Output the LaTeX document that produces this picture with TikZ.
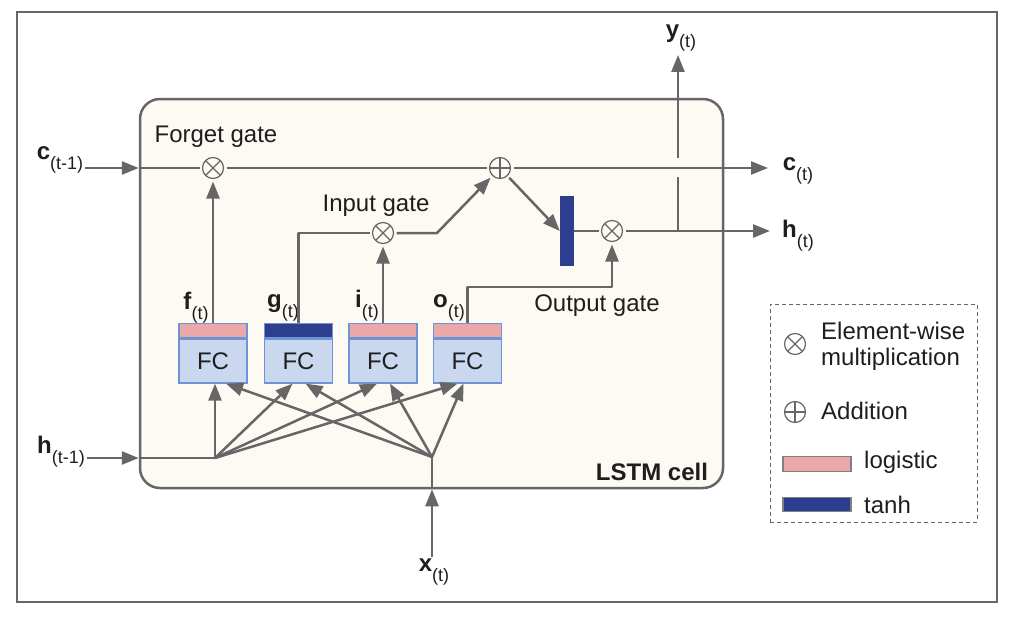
\documentclass[tikz,border=0pt]{standalone}
\usepackage{fontspec}
\setmainfont{Liberation Sans}
\usetikzlibrary{positioning,arrows.meta}
\definecolor{linegray}{HTML}{666666}
\definecolor{cellbg}{HTML}{FCFAF3}
\definecolor{fcblue}{HTML}{C9D8EE}
\definecolor{fcedge}{HTML}{6F94D6}
\definecolor{logipink}{HTML}{EBA8A8}
\definecolor{tanhblue}{HTML}{2E3E8E}
\definecolor{textdark}{HTML}{1E1E1E}
\newcommand{\sublab}[2]{\textbf{#1}\raisebox{-10pt}{\fontsize{18}{18}\selectfont(#2)}}

\begin{document}
\begin{tikzpicture}[x=1pt,y=-1pt,font=\fontsize{24}{28}\selectfont,text=textdark]
\tikzstyle{line}=[draw=linegray,line width=2.5pt,line join=round]
\tikzstyle{arr}=[line,-{Triangle[length=17pt,width=13pt]}]
\tikzstyle{op}=[circle,draw=linegray,fill=cellbg,line width=1.2pt,minimum size=21pt,inner sep=0pt,outer sep=3pt]
\tikzstyle{mul}=[op,path picture={\draw[linegray,line width=1.2pt] (path picture bounding box.south west) -- (path picture bounding box.north east) (path picture bounding box.north west) -- (path picture bounding box.south east);}]
\tikzstyle{plus}=[op,path picture={\draw[linegray,line width=1.2pt] (path picture bounding box.north) -- (path picture bounding box.south) (path picture bounding box.west) -- (path picture bounding box.east);}]
\tikzstyle{fc}=[draw=fcedge,fill=fcblue,line width=1.2pt,minimum width=68pt,minimum height=44pt,inner sep=0pt]
\tikzstyle{logi}=[draw=fcedge,fill=logipink,line width=1.2pt,minimum width=68pt,minimum height=14pt,inner sep=0pt]
\tikzstyle{tanhp}=[logi,fill=tanhblue]
\tikzstyle{lab}=[inner sep=2pt]

\useasboundingbox (0,0) rectangle (1020,626);
\draw[linegray,line width=1.5pt] (17,12) rectangle (997,602);

% the cell
\node[draw=linegray,fill=cellbg,line width=2.5pt,rounded corners=20pt,minimum width=583pt,minimum height=389pt] (cell) at (431.5,293.5) {};
\node[lab] (celllab) at (652,472) {\bfseries LSTM cell};

% fully connected layers
\node[fc] (f) at (213,361) {FC};
\node[fc] (g) at (298.5,361) {FC};
\node[fc] (i) at (383,361) {FC};
\node[fc] (o) at (467.5,361) {FC};
\node[logi,above=0pt of f] (fs) {};
\node[tanhp,above=0pt of g] (gs) {};
\node[logi,above=0pt of i] (is) {};
\node[logi,above=0pt of o] (os) {};
\node[lab] (flab) at (196,308) {\sublab{f}{t}};
\node[lab] (glab) at (283,308) {\sublab{g}{t}};
\node[lab] (ilab) at (367,306) {\sublab{i}{t}};
\node[lab] (olab) at (449,308) {\sublab{o}{t}};

% gates
\node[mul] (fg) at (213,168) {};
\node[plus] (add) at (500,168) {};
\node[mul] (ig) at (383,233) {};
\node[mul] (og) at (612,231) {};
\node[fill=tanhblue,minimum width=14pt,minimum height=70pt,inner sep=0pt] (th) at (567,231) {};
\node[lab] (fglab) at (216,137) {Forget gate};
\node[lab] (iglab) at (376,206) {Input gate};
\node[lab] (oglab) at (597,306) {Output gate};

% inputs and outputs
\node[lab] (cin) at (60,160) {\sublab{c}{t-1}};
\node[lab] (hin) at (61,452) {\sublab{h}{t-1}};
\node[lab] (xin) at (434,572) {\sublab{x}{t}};
\node[lab] (cout) at (798,171) {\sublab{c}{t}};
\node[lab] (hout) at (798,236) {\sublab{h}{t}};
\node[lab] (yout) at (681,38) {\sublab{y}{t}};
\coordinate (hj) at (215,458);
\coordinate (xj) at (432,457);
\coordinate (ibend) at (437,233);
\coordinate (oturn) at (612,287);
\coordinate (ctip) at (768,168);
\coordinate (htip) at (770,231);
\coordinate (ybr) at (678,231);
\coordinate (ytip) at (678,55);
\coordinate (ycross) at (ybr |- add);

% connectors
\draw[arr] (cin.east |- fg) -- (cell.west |- fg);
\draw[line] (cell.west |- fg) -- (fg);
\draw[line] (fg) -- (add);
\draw[arr] (add) -- (ctip);
\draw[arr] (add) -- (th.west);
\draw[line] (th) -- (og);
\draw[arr] (og) -- (htip);
\draw[line] (ybr) -- ([yshift=-9pt]ycross);
\draw[arr] ([yshift=10pt]ycross) -- (ytip);
\draw[arr] (fs.north) -- (fg);
\draw[line] (gs.north) |- (ig);
\draw[arr] (is.north) -- (ig);
\draw[arr] (ig) -- (ibend) -- (add);
\draw[arr] (os.north) |- (oturn) -- (og);
\draw[arr] (hin.east |- hj) -- (cell.west |- hj);
\draw[line] (cell.west |- hj) -- (hj);
\draw[arr] (xj |- xin.north) -- (xj |- cell.south);
\draw[line] (xj |- cell.south) -- (xj);
\foreach \n/\s in {f/2,g/-6,i/-6,o/-10} \draw[arr] (hj) -- ([xshift=\s pt]\n.south);
\foreach \n/\s in {f/13,g/7,i/7,o/-4} \draw[arr] (xj) -- ([xshift=\s pt]\n.south);

% legend
\node[draw=linegray,dashed,dash pattern=on 4pt off 3pt,line width=1pt,minimum width=207pt,minimum height=218pt] (legend) at (873.5,413) {};
\node[mul,fill=white] (lmul) at (795,344) {};
\node[plus,fill=white] (ladd) at (795,412) {};
\node[logi,draw=gray,minimum height=15pt] (llogi) at (817,464) {};
\node[tanhp,draw=gray,minimum height=14pt] (ltanh) at (817,504.5) {};
\node[lab,anchor=west,align=left,font=\fontsize{24}{26}\selectfont] (lmultxt) at (819,346) {Element-wise\\multiplication};
\node[lab,anchor=west] (laddtxt) at (819,411) {Addition};
\node[lab,anchor=west] (llogitxt) at (862,462) {logistic};
\node[lab,anchor=west] (ltanhtxt) at (862,505) {tanh};
\end{tikzpicture}
\end{document}
